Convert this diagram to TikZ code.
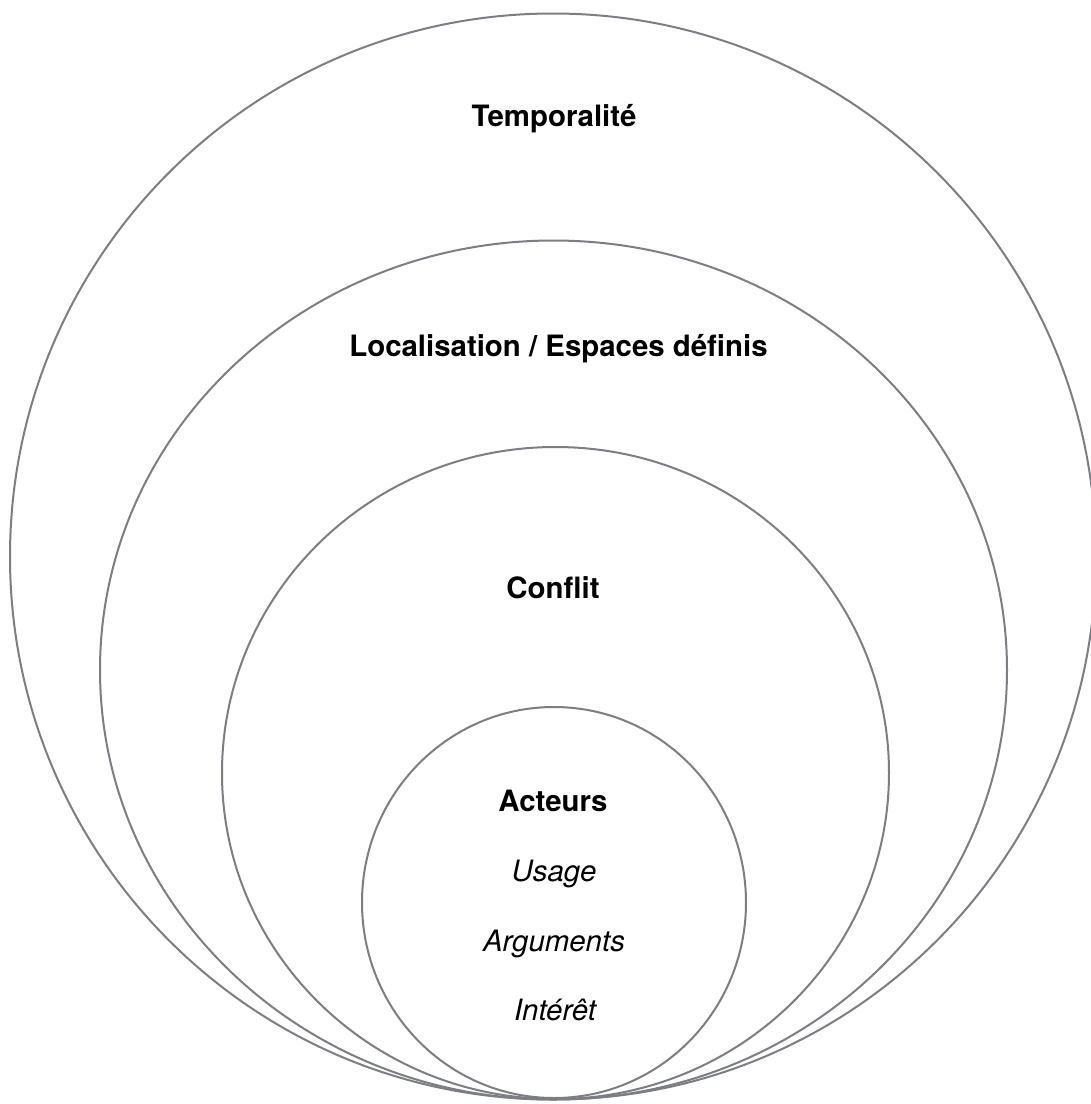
\documentclass[tikz,border=0pt]{standalone}
\usepackage{fontspec}
\setmainfont{TeX Gyre Heros}
\definecolor{ringgray}{RGB}{124,126,131}
\tikzset{
  ring/.style={draw=ringgray, line width=2pt},
  boldlabel/.style={anchor=base, inner sep=0pt, font=\fontsize{29.4}{35}\selectfont\bfseries},
  itallabel/.style={anchor=base, inner sep=0pt, font=\fontsize{29.4}{35}\selectfont\itshape}
}
\begin{document}
\begin{tikzpicture}[x=1pt,y=-1pt]
  \useasboundingbox (0,0) rectangle (1091,1104);
  \clip (0,0) rectangle (1091,1104);
  \fill[white] (0,0) rectangle (1091,1104);
  % rings
  \draw[ring] (553,556.5) ellipse [x radius=543, y radius=543];
  \draw[ring] (553.5,670) ellipse [x radius=453.5, y radius=429.5];
  \draw[ring] (555.5,773) ellipse [x radius=333.5, y radius=326];
  \draw[ring] (554,902.5) ellipse [x radius=192, y radius=195.5];
  % labels
  \node[boldlabel] (temp) at (554,126.5) {Temporalité};
  \node[boldlabel] (loc) at (558.5,356) {Localisation / Espaces définis};
  \node[boldlabel] (conf) at (553,598) {Conflit};
  \node[boldlabel] (act) at (553,811) {Acteurs};
  \node[itallabel] (usage) at (554,881) {Usage};
  \node[itallabel] (arg) at (554,951) {Arguments};
  \node[itallabel] (int) at (555,1020) {Intérêt};
\end{tikzpicture}
\end{document}
